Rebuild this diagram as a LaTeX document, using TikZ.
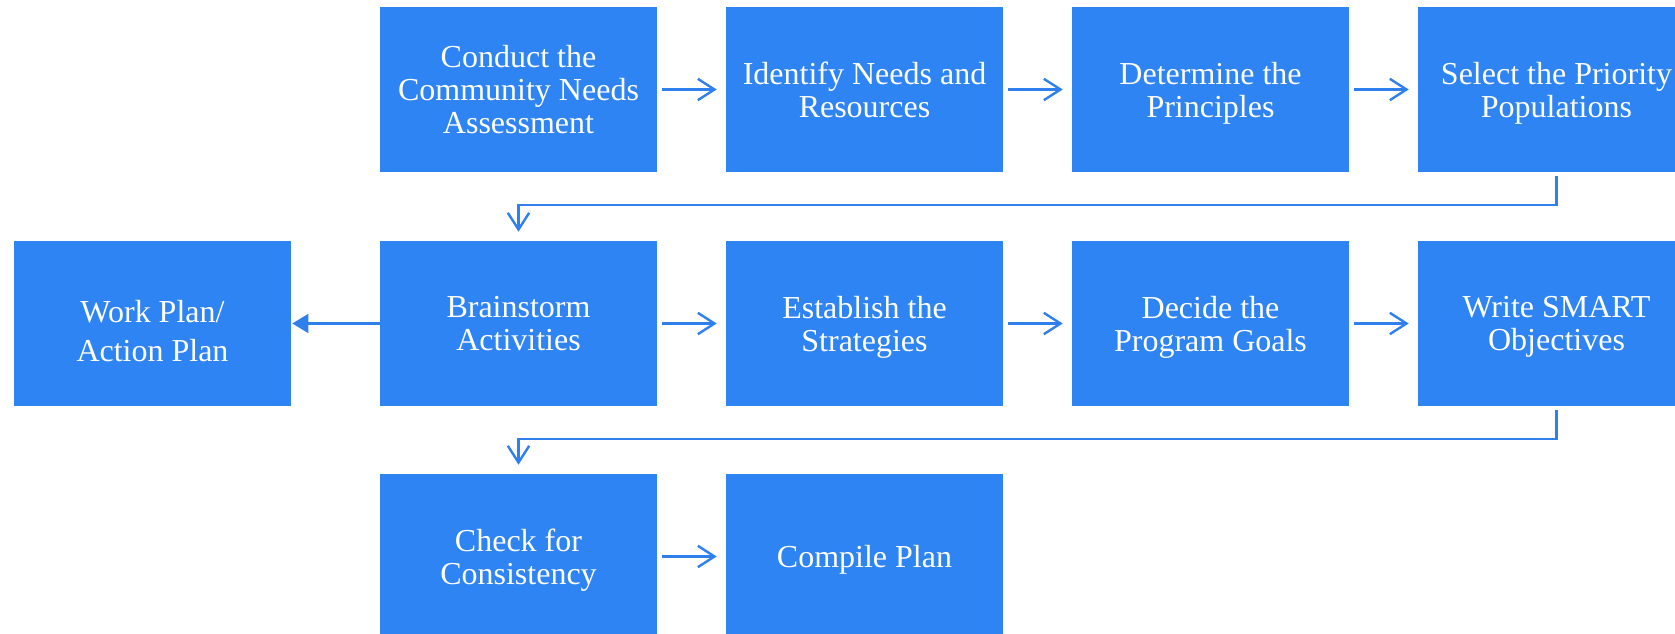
\documentclass[tikz,border=0pt]{standalone}
\usepackage{fontspec}
\setmainfont{Liberation Serif}
\usetikzlibrary{arrows.meta,calc}
\definecolor{boxblue}{RGB}{47,132,244}
\definecolor{lineblue}{RGB}{47,128,237}
\begin{document}
\begin{tikzpicture}[x=0.75pt,y=-0.75pt,
  boxtext/.style={align=center, text=white, text depth=0pt,
    font=\fontsize{24}{24.75}\selectfont},
  stepbox/.style={rectangle, fill=boxblue, draw=none, inner sep=0pt,
    minimum width=207.75pt, minimum height=123.75pt, boxtext},
  openarr/.style={draw=lineblue, line width=1.8pt,
    -{Straight Barb[length=12.5pt,width=16pt,line width=1.8pt]}},
  fillarr/.style={draw=lineblue, line width=1.8pt,
    -{Triangle[length=12pt,width=14pt]}}]
\useasboundingbox (0,0) rectangle (1675,634);
% row 1
\node[stepbox] (a1) at (518.5,89.5) {Conduct the\\Community Needs\\Assessment};
\node[stepbox] (a2) at (864.5,89.5) {Identify Needs and\\Resources};
\node[stepbox] (a3) at (1210.5,89.5) {Determine the\\Principles};
\node[stepbox] (a4) at (1556.5,89.5) {Select the Priority\\Populations};
% row 2
\node[stepbox, label={[boxtext, inner sep=0pt, yshift=-5.25pt,
   font=\fontsize{24}{29.25}\selectfont]center:Work Plan/\\Action Plan}]
   (w) at (152.5,323.5) {};
\node[stepbox] (b1) at (518.5,323.5) {Brainstorm\\Activities};
\node[stepbox] (b2) at (864.5,323.5) {Establish the\\Strategies};
\node[stepbox] (b3) at (1210.5,323.5) {Decide the\\Program Goals};
\node[stepbox] (b4) at (1556.5,323.5) {Write SMART\\Objectives};
% row 3
\node[stepbox] (c1) at (518.5,556.5) {Check for\\Consistency};
\node[stepbox] (c2) at (864.5,556.5) {Compile Plan};
% horizontal arrows
\foreach \p/\q in {a1/a2,a2/a3,a3/a4,b1/b2,b2/b3,b3/b4,c1/c2}{
  \draw[openarr, shorten <=3.75pt, shorten >=6.75pt] (\p.east) -- (\q.west);
}
\draw[fillarr, shorten >=0.75pt] (b1.west) -- (w.east);
% row connectors
\draw[openarr] ($(a4.south)+(0,4)$) -- ($(a4.south)+(0,33)$) -| ($(b1.north)+(0,-9)$);
\draw[openarr] ($(b4.south)+(0,4)$) -- ($(b4.south)+(0,33)$) -| ($(c1.north)+(0,-9)$);
\end{tikzpicture}
\end{document}
